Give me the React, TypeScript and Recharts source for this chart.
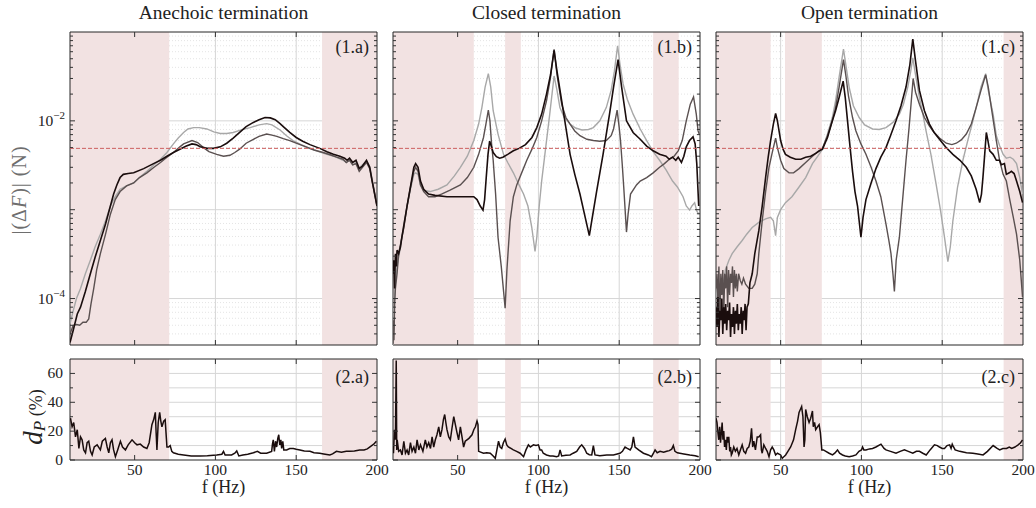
import React from 'react';
import {
  LineChart,
  Line,
  XAxis,
  YAxis,
  CartesianGrid,
  ReferenceArea,
  ReferenceLine,
} from 'recharts';

type Pt = [number, number];
type Band = [number, number];

const FONT = '"Liberation Serif", "DejaVu Serif", serif';

// frequency axis (Hz)
const freqDomain: [number, number] = [10, 200];
const freqTicks = [50, 100, 150, 200];
const freqGrid = [50, 100, 150];

// |<ΔF>| axis (N), log
const forceDomain: [number, number] = [3e-5, 0.1];
const forceMajor = [1e-4, 1e-3, 1e-2];
const forceMinor = [
  4e-5, 5e-5, 6e-5, 7e-5, 8e-5, 9e-5,
  2e-4, 3e-4, 4e-4, 5e-4, 6e-4, 7e-4, 8e-4, 9e-4,
  2e-3, 3e-3, 4e-3, 5e-3, 6e-3, 7e-3, 8e-3, 9e-3,
  2e-2, 3e-2, 4e-2, 5e-2, 6e-2, 7e-2, 8e-2, 9e-2,
];
const forceLabels: [number, string][] = [[1e-2, '−2'], [1e-4, '−4']];
const threshold = 4.9e-3;

// d_P axis (%)
const dpDomain: [number, number] = [0, 70];
const dpTicks = [0, 10, 20, 30, 40, 50, 60];
const dpLabels = [0, 20, 40, 60];

const titles = ['Anechoic termination', 'Closed termination', 'Open termination'];
const topTags = ['(1.a)', '(1.b)', '(1.c)'];
const bottomTags = ['(2.a)', '(2.b)', '(2.c)'];

// shaded frequency bands
const anechoicBands: Band[] = [[10, 71.4], [166, 200]];
const closedBandsTop: Band[] = [[10, 60], [79.4, 89.1], [171, 186.8]];
const closedBandsBottom: Band[] = [[10, 62.5], [79.4, 89.1], [171, 186.8]];
const openBands: Band[] = [[10, 43.8], [52.7, 75.5], [188, 200]];

// ---- anechoic termination ----
const anechoicLight: Pt[] = [
  [10, 5.2e-5], [12, 7.3e-5], [14, 1.0e-4], [16.5, 1.3e-4], [19.5, 1.9e-4], [22.6, 2.7e-4], [25.5, 3.8e-4],
  [28.8, 5.3e-4], [32, 7.5e-4], [35, 1.1e-3], [38, 1.4e-3], [41, 1.7e-3], [45, 1.85e-3], [49.4, 2.0e-3],
  [53, 2.3e-3], [57.6, 2.7e-3], [62, 3.2e-3], [66, 3.7e-3], [70, 4.4e-3], [74, 5.5e-3], [77, 6.4e-3],
  [80.3, 7.4e-3], [83, 8.1e-3], [86.5, 8.4e-3], [90, 8.4e-3], [94.7, 8.1e-3], [99, 7.5e-3], [103, 7.2e-3],
  [107, 7.2e-3], [111, 7.4e-3], [116, 7.9e-3], [121.5, 8.4e-3], [127, 9.0e-3], [131.7, 9.3e-3], [135, 9.0e-3],
  [140, 7.9e-3], [144, 6.8e-3], [148, 6.0e-3], [153, 5.4e-3], [158.5, 4.9e-3], [164, 4.5e-3], [169, 4.2e-3],
  [174, 3.95e-3], [179, 3.6e-3], [181, 3.4e-3], [183, 3.6e-3], [185, 3.2e-3], [187, 3.4e-3], [189, 2.95e-3],
  [191, 3.2e-3], [193.5, 3.5e-3], [195.5, 3.05e-3], [197, 2.2e-3], [200, 1.1e-3],
];
const anechoicDark: Pt[] = [
  [10, 4.0e-5], [12, 5.0e-5], [14, 5.1e-5], [16, 5.0e-5], [18, 5.4e-5], [20, 5.4e-5], [21.6, 5.9e-5],
  [23, 8.7e-5], [24.7, 1.3e-4], [26.5, 2.1e-4], [28.8, 3.2e-4], [32, 5.3e-4], [35, 8.9e-4], [38, 1.3e-3],
  [41, 1.6e-3], [45, 1.85e-3], [49.4, 2.0e-3], [53, 2.3e-3], [57.6, 2.6e-3], [62, 3.0e-3], [66, 3.4e-3],
  [70, 3.9e-3], [74, 4.4e-3], [78, 5.1e-3], [80.3, 5.5e-3], [85.5, 6.0e-3], [89, 5.7e-3], [92.6, 5.0e-3],
  [96, 4.5e-3], [100.8, 4.2e-3], [105, 4.0e-3], [109, 4.1e-3], [112, 4.4e-3], [115, 4.8e-3], [119, 5.6e-3],
  [123.5, 6.2e-3], [127, 6.7e-3], [131.7, 7.1e-3], [135, 6.9e-3], [138, 6.7e-3], [142, 6.3e-3], [146, 6.0e-3],
  [150, 5.6e-3], [156, 5.1e-3], [161, 4.7e-3], [166.7, 4.4e-3], [171, 4.15e-3], [175, 3.9e-3], [179, 3.7e-3],
  [181, 3.4e-3], [183, 3.6e-3], [185, 3.2e-3], [187, 3.3e-3], [189, 2.7e-3], [191, 3.0e-3], [193.5, 3.4e-3],
  [195.5, 2.9e-3], [197, 2.1e-3], [200, 1.1e-3],
];
const anechoicBlack: Pt[] = [
  [10, 3.2e-5], [12, 4.4e-5], [14.5, 6.7e-5], [16.5, 8.0e-5], [19.5, 1.2e-4], [22.6, 1.9e-4], [25.5, 2.9e-4],
  [28.8, 4.5e-4], [32, 6.9e-4], [35, 1.1e-3], [37, 1.5e-3], [39, 1.9e-3], [41, 2.3e-3], [43, 2.5e-3],
  [46, 2.55e-3], [49.4, 2.6e-3], [55.6, 2.9e-3], [61.7, 3.3e-3], [66, 3.6e-3], [70, 4.0e-3], [74, 4.4e-3],
  [78, 4.8e-3], [82, 5.2e-3], [85.5, 5.5e-3], [88, 5.4e-3], [90.6, 5.1e-3], [95, 4.9e-3], [98.8, 4.9e-3],
  [103, 5.1e-3], [107, 5.6e-3], [111, 6.4e-3], [115, 7.4e-3], [119, 8.6e-3], [123.5, 9.6e-3], [127, 1.03e-2],
  [130.7, 1.09e-2], [134, 1.08e-2], [137, 1.03e-2], [140, 9.3e-3], [142, 8.6e-3], [146, 7.4e-3], [150, 6.5e-3],
  [154, 5.9e-3], [158.5, 5.4e-3], [164.6, 4.9e-3], [169, 4.5e-3], [173, 4.2e-3], [177, 4.0e-3], [180, 3.8e-3],
  [181.5, 3.6e-3], [183, 3.8e-3], [185, 3.4e-3], [187, 3.6e-3], [189, 2.9e-3], [191, 3.1e-3], [193.5, 3.6e-3],
  [195.5, 3.0e-3], [197, 2.1e-3], [200, 1.1e-3],
];

// ---- closed termination ----
const closedLight: Pt[] = [
  [10, 2.8e-5], [10.3, 8.0e-5], [10.6, 4.4e-5], [11, 1.1e-4], [11.5, 1.5e-4], [12.5, 2.3e-4], [14.6, 3.8e-4],
  [16.7, 6.9e-4], [18.7, 1.1e-3], [20.8, 1.7e-3], [22.9, 2.5e-3], [24, 2.6e-3], [25.5, 2.5e-3], [27, 1.9e-3],
  [29, 1.65e-3], [33, 1.6e-3], [38, 1.7e-3], [43.4, 1.9e-3], [48, 2.4e-3], [51.7, 3.0e-3], [56, 4.0e-3],
  [60, 6.0e-3], [63, 9.2e-3], [65, 1.41e-2], [67, 2.4e-2], [69, 3.4e-2], [70.5, 2.4e-2], [72, 1.3e-2],
  [75, 7.1e-3], [78.4, 4.2e-3], [81, 3.4e-3], [84.5, 2.6e-3], [88, 1.9e-3], [90.8, 1.5e-3], [93.5, 1.1e-3],
  [95.9, 6.3e-4], [97.9, 3.4e-4], [99, 4.9e-4], [100.5, 1.1e-3], [102, 2.1e-3], [104, 4.2e-3], [107, 1.19e-2],
  [109.7, 3.2e-2], [111.5, 2.2e-2], [113.3, 1.41e-2], [116, 1.09e-2], [119.6, 9.2e-3], [123, 8.3e-3],
  [127, 7.9e-3], [131, 8.0e-3], [134, 8.4e-3], [138, 1.0e-2], [142, 1.41e-2], [145, 2.2e-2], [147, 3.6e-2],
  [149, 7.0e-2], [150.5, 4.3e-2], [152.4, 2.6e-2], [155, 1.75e-2], [158.6, 1.19e-2], [163, 8.1e-3],
  [167, 6.0e-3], [171, 4.5e-3], [175, 3.6e-3], [179, 2.8e-3], [183, 2.1e-3], [186, 1.8e-3], [189.5, 1.4e-3],
  [191.5, 1.1e-3], [193.6, 9.9e-4], [195, 1.1e-3], [196.7, 1.2e-3], [198, 9.7e-4], [199.2, 8.9e-4],
];
const closedDark: Pt[] = [
  [10, 3.1e-5], [10.3, 5.7e-5], [10.6, 3.4e-5], [11, 8.7e-5], [11.5, 1.3e-4], [12.5, 1.9e-4], [13.5, 3.2e-4],
  [16.7, 6.3e-4], [18.7, 1.1e-3], [20.8, 1.8e-3], [22.9, 2.7e-3], [24, 3.0e-3], [25.5, 2.7e-3], [27, 1.9e-3],
  [29, 1.6e-3], [32, 1.4e-3], [36, 1.4e-3], [40, 1.5e-3], [45, 1.65e-3], [51.7, 1.9e-3], [56, 2.3e-3],
  [60, 3.0e-3], [63, 4.2e-3], [66, 6.5e-3], [67.5, 9.2e-3], [69, 1.32e-2], [70, 1.0e-2], [71, 5.5e-3],
  [72, 3.6e-3], [73.5, 1.5e-3], [75, 4.9e-4], [77, 2.3e-4], [79.4, 7.8e-5], [80.5, 2.1e-4], [82.5, 7.5e-4],
  [84.5, 1.4e-3], [86.6, 1.9e-3], [90, 2.7e-3], [92.8, 3.6e-3], [96, 4.8e-3], [99, 6.5e-3], [102, 1.0e-2],
  [105, 1.68e-2], [107.5, 3.1e-2], [109.7, 6.4e-2], [111.5, 3.3e-2], [114.4, 1.54e-2], [117, 1.09e-2],
  [119.6, 9.2e-3], [122.5, 7.7e-3], [125.7, 6.8e-3], [130, 6.2e-3], [134, 6.0e-3], [138, 5.9e-3],
  [142, 6.0e-3], [145, 6.8e-3], [146.5, 8.1e-3], [148.7, 1.32e-2], [150, 8.4e-3], [150.8, 6.0e-3],
  [152, 3.0e-3], [152.8, 1.8e-3], [154.5, 5.6e-4], [155.5, 8.9e-4], [157, 1.5e-3], [160.7, 1.9e-3],
  [163, 2.1e-3], [167, 2.3e-3], [171, 2.6e-3], [175, 3.0e-3], [178, 3.3e-3], [181, 3.7e-3], [184, 4.0e-3],
  [186.5, 4.6e-3], [189, 6.0e-3], [191.5, 1.0e-2], [194, 1.54e-2], [196, 1.86e-2], [197.7, 1.19e-2],
  [198.8, 7.7e-3], [199.5, 7.1e-3],
];
const closedBlack: Pt[] = [
  [10, 1.9e-4], [10.5, 2.7e-4], [11, 1.3e-4], [11.5, 3.2e-4], [12, 2.3e-4], [12.5, 3.5e-4], [13.5, 3.2e-4],
  [14.6, 3.8e-4], [15.5, 4.9e-4], [16.5, 6.3e-4], [18.7, 1.1e-3], [20.8, 1.8e-3], [22.9, 3.0e-3], [24, 3.3e-3],
  [25.5, 3.0e-3], [27, 2.1e-3], [29, 1.7e-3], [32, 1.5e-3], [36, 1.45e-3], [43.4, 1.4e-3], [50, 1.4e-3],
  [56, 1.4e-3], [60, 1.4e-3], [62, 1.3e-3], [64, 1.1e-3], [65.7, 9.9e-4], [66.7, 1.3e-3], [67.7, 2.3e-3],
  [68.8, 4.2e-3], [69.8, 5.9e-3], [70.8, 5.2e-3], [72, 4.4e-3], [74, 3.95e-3], [76, 3.8e-3], [78, 3.9e-3],
  [81, 4.2e-3], [84.5, 4.6e-3], [88, 4.9e-3], [92, 5.4e-3], [96, 6.5e-3], [99, 8.4e-3], [102, 1.19e-2],
  [105, 2.0e-2], [107.5, 3.3e-2], [109.7, 6.2e-2], [111.5, 3.6e-2], [114.4, 1.68e-2], [117, 8.4e-3],
  [119.6, 4.2e-3], [122.5, 2.5e-3], [125.7, 1.5e-3], [128.5, 8.9e-4], [131.5, 5.1e-4], [133, 7.5e-4],
  [136, 1.6e-3], [140, 4.2e-3], [144, 1.19e-2], [146.5, 2.4e-2], [149.3, 4.9e-2], [151.5, 2.4e-2],
  [154.5, 1.0e-2], [158.6, 7.4e-3], [163, 6.2e-3], [167, 5.2e-3], [171, 4.6e-3], [175, 4.2e-3], [179, 4.0e-3],
  [181, 3.7e-3], [183, 3.9e-3], [185, 3.6e-3], [186.5, 3.9e-3], [188.5, 3.4e-3], [190, 4.0e-3], [191.5, 5.1e-3],
  [193.5, 6.0e-3], [195.7, 6.6e-3], [197, 5.5e-3], [198, 3.3e-3], [199.2, 1.1e-3],
];

// ---- open termination ----
const openLight: Pt[] = [
  [10, 1.04e-4], [11, 1.3e-4], [12, 8.7e-5], [13, 1.7e-4], [14, 1.3e-4], [15.8, 2.1e-4], [18, 2.7e-4],
  [20, 3.2e-4], [23, 3.8e-4], [26.2, 4.5e-4], [29, 5.3e-4], [32.4, 6.3e-4], [36.5, 7.2e-4], [40.7, 7.9e-4],
  [43.8, 8.2e-4], [45.5, 7.5e-4], [46.9, 5.1e-4], [48, 8.2e-4], [50, 1.0e-3], [53, 1.2e-3], [57, 1.4e-3],
  [61.4, 1.8e-3], [65.5, 2.3e-3], [69.7, 3.3e-3], [73, 4.0e-3], [75.9, 4.8e-3], [79, 7.1e-3], [82, 1.09e-2],
  [84, 1.68e-2], [86.2, 3.1e-2], [88.9, 6.4e-2], [90.5, 4.1e-2], [92.4, 2.4e-2], [95, 1.48e-2], [98.6, 1.09e-2],
  [102, 9.0e-3], [106.9, 8.1e-3], [111, 8.0e-3], [115.2, 8.4e-3], [119.5, 9.6e-3], [123.5, 1.19e-2],
  [126, 1.54e-2], [128.7, 2.4e-2], [130.5, 3.6e-2], [131.8, 5.1e-2], [133.5, 3.3e-2], [135.9, 1.83e-2],
  [138, 1.19e-2], [140, 7.7e-3], [143, 4.2e-3], [146.3, 1.9e-3], [149, 9.7e-4], [151.4, 4.9e-4],
  [153.5, 2.6e-4], [155, 3.8e-4], [156.6, 7.5e-4], [159.5, 1.8e-3], [162.8, 3.6e-3], [166, 6.2e-3],
  [169, 1.0e-2], [172, 1.68e-2], [174, 2.4e-2], [176.9, 3.4e-2], [178.5, 2.2e-2], [181.5, 1.19e-2],
  [183.5, 6.8e-3], [185.6, 5.2e-3], [187.7, 4.2e-3], [189.7, 3.8e-3], [192, 3.9e-3], [194, 3.7e-3],
  [196, 3.3e-3], [198, 2.3e-3], [199.7, 1.5e-3],
];
const openDark: Pt[] = [
  [10, 1.3e-4], [10.6, 1.9e-4], [11.2, 8.7e-5], [11.8, 2.3e-4], [12.4, 5.7e-5], [13, 1.9e-4], [13.6, 1.1e-4],
  [14.2, 2.1e-4], [14.8, 6.7e-5], [15.4, 1.9e-4], [16, 1.3e-4], [16.6, 2.3e-4], [17.2, 8.0e-5], [17.8, 2.1e-4],
  [18.4, 1.1e-4], [19, 1.9e-4], [19.6, 1.5e-4], [20.2, 2.3e-4], [20.8, 1.04e-4], [21.4, 2.1e-4], [22, 1.3e-4],
  [22.6, 1.9e-4], [23.2, 1.2e-4], [24, 1.9e-4], [25, 1.6e-4], [26, 1.45e-4], [27, 1.7e-4], [28.3, 1.45e-4],
  [30.3, 1.3e-4], [32.4, 1.3e-4], [34, 1.45e-4], [35.5, 1.9e-4], [36.5, 3.2e-4], [38.6, 7.5e-4],
  [40.7, 1.6e-3], [42.8, 3.0e-3], [44.8, 4.4e-3], [46.9, 6.4e-3], [48, 5.0e-3], [50, 3.6e-3], [52, 2.9e-3],
  [55.2, 2.6e-3], [58, 2.6e-3], [61.4, 2.9e-3], [65.5, 3.4e-3], [69.7, 4.0e-3], [73, 4.5e-3], [75.9, 4.9e-3],
  [79, 6.8e-3], [82, 1.0e-2], [84, 1.41e-2], [86.2, 2.4e-2], [88.9, 4.9e-2], [90.5, 3.1e-2], [92, 1.9e-2],
  [94.5, 1.09e-2], [96.6, 7.7e-3], [99.7, 5.5e-3], [102.8, 4.2e-3], [106, 3.0e-3], [109, 2.1e-3],
  [112, 1.4e-3], [115.2, 6.9e-4], [117, 4.5e-4], [118.3, 3.2e-4], [119.5, 1.9e-4], [120.4, 1.2e-4],
  [121.5, 2.7e-4], [123.5, 4.9e-4], [125.5, 1.3e-3], [127.6, 3.6e-3], [129.5, 8.4e-3], [130.7, 1.54e-2],
  [132, 3.0e-2], [133.5, 2.1e-2], [135.9, 1.54e-2], [139, 1.09e-2], [142, 8.8e-3], [144.2, 7.7e-3],
  [148.3, 6.4e-3], [152.5, 5.6e-3], [156, 5.4e-3], [158.7, 5.6e-3], [161.8, 6.1e-3], [164.9, 7.1e-3],
  [168, 9.2e-3], [171, 1.41e-2], [174, 2.2e-2], [176.9, 3.3e-2], [178.5, 2.4e-2], [180.4, 1.41e-2],
  [183.5, 6.0e-3], [185.5, 3.6e-3], [187.7, 2.5e-3], [189.7, 2.1e-3], [191.8, 1.3e-3], [194, 8.2e-4],
  [196, 5.3e-4], [198, 2.7e-4], [199.7, 1.04e-4],
];
const openBlack: Pt[] = [
  [10, 8.0e-5], [10.6, 4.8e-5], [11.2, 1.04e-4], [11.8, 3.7e-5], [12.4, 7.3e-5], [13, 5.7e-5], [13.6, 1.0e-4],
  [14.2, 4.0e-5], [14.8, 8.0e-5], [15.4, 5.2e-5], [16, 8.7e-5], [16.6, 4.4e-5], [17.2, 7.3e-5], [17.8, 5.7e-5],
  [18.4, 9.0e-5], [19, 3.7e-5], [19.6, 6.7e-5], [20.2, 4.8e-5], [20.8, 8.0e-5], [21.4, 4.0e-5], [22, 7.3e-5],
  [22.6, 5.2e-5], [23.2, 8.7e-5], [23.8, 4.4e-5], [24.4, 6.7e-5], [25, 5.2e-5], [25.6, 8.0e-5], [26.2, 4.0e-5],
  [26.8, 7.3e-5], [27.4, 5.7e-5], [28, 8.7e-5], [28.6, 4.4e-5], [29.2, 8.0e-5], [30, 8.7e-5], [31, 1.5e-4],
  [32.4, 1.9e-4], [34, 3.2e-4], [36.5, 5.8e-4], [38.6, 1.1e-3], [40.7, 2.3e-3], [42.3, 3.9e-3], [43.8, 6.0e-3],
  [45.5, 9.2e-3], [46.9, 1.21e-2], [48, 1.0e-2], [50, 6.0e-3], [51.5, 4.8e-3], [53, 4.2e-3], [56, 3.9e-3],
  [59.3, 3.7e-3], [62.5, 3.7e-3], [65.5, 3.9e-3], [68.6, 4.0e-3], [71.7, 4.3e-3], [74, 4.6e-3], [75.9, 4.8e-3],
  [79, 6.5e-3], [82, 1.0e-2], [84, 1.3e-2], [86.2, 1.83e-2], [88.7, 2.8e-2], [90, 1.83e-2], [91.4, 1.0e-2],
  [93, 5.0e-3], [94.5, 2.7e-3], [96, 1.6e-3], [97.6, 1.1e-3], [99.7, 4.9e-4], [101, 8.2e-4], [102.8, 1.3e-3],
  [106, 2.0e-3], [109, 2.9e-3], [112, 3.9e-3], [115.2, 5.0e-3], [118, 6.8e-3], [121.4, 1.0e-2],
  [124.5, 1.48e-2], [127.6, 2.4e-2], [130, 4.3e-2], [131.8, 8.3e-2], [133.5, 4.7e-2], [135.9, 2.2e-2],
  [139, 1.3e-2], [142.1, 9.2e-3], [145, 7.4e-3], [148.3, 6.2e-3], [152, 5.1e-3], [156.6, 4.2e-3],
  [161, 3.6e-3], [164.9, 3.0e-3], [168, 2.4e-3], [171, 1.7e-3], [173.2, 1.2e-3], [174.3, 1.5e-3],
  [175.2, 2.3e-3], [176.3, 4.2e-3], [177.3, 7.4e-3], [178.3, 6.0e-3], [179.4, 4.6e-3], [181.5, 4.2e-3],
  [183.5, 3.6e-3], [185.5, 3.6e-3], [186.6, 3.2e-3], [188.5, 3.3e-3], [189.7, 2.5e-3], [191.5, 2.6e-3],
  [192.8, 2.7e-3], [194.5, 2.55e-3], [196, 2.1e-3], [198, 1.6e-3], [199.7, 1.2e-3],
];

// ---- d_P (%) ----
const dpAnechoic: Pt[] = [
  [10.3, 29], [11.3, 23], [12.3, 26], [13.4, 16], [14.5, 21], [15.5, 8], [16.5, 16], [17.5, 14], [18.5, 7],
  [19.6, 5], [20.6, 12], [21.6, 13], [22.7, 6], [23.7, 3.5], [25, 9], [26.8, 10.5], [28.8, 7], [30, 13],
  [31.9, 15], [33, 9], [34, 5], [35, 12], [36, 14], [37, 7], [38.1, 2.3], [39.5, 7], [41.2, 13], [42.5, 9],
  [44.3, 7], [46, 10.5], [48.4, 14], [50, 12], [51.5, 10.5], [53.5, 11], [55.6, 9], [57.6, 8], [59, 12],
  [60.7, 24.5], [61.8, 28], [62.8, 33], [63.3, 19], [63.8, 7], [64.6, 26], [65.5, 33], [66.2, 27], [66.9, 23],
  [68, 27], [68.9, 28], [70, 9], [71, 9], [72, 10], [73, 6], [74, 5], [77, 4], [80.3, 3.5], [85, 2.8],
  [90.6, 2.8], [95, 3], [100.8, 3.5], [104, 4], [105, 6], [106, 3.5], [110, 3.5], [112, 4.7], [113.2, 6.3],
  [114.5, 2.8], [117, 3.5], [120, 4], [123.5, 5], [126, 6], [128, 4.7], [131.7, 4.7], [134.8, 6], [135.3, 11],
  [135.8, 14], [136.5, 6], [137.2, 13], [137.9, 9], [138.6, 15], [139.2, 17.5], [139.8, 10.5], [140.5, 14],
  [141, 8], [141.7, 13], [142.3, 7], [144.1, 7], [146, 8], [148.2, 8], [150, 7.5], [152.3, 7], [155, 6.3],
  [158.5, 6], [161, 5], [164.6, 4.7], [167, 4.2], [170.8, 3.5], [172.5, 4.2], [174.9, 6], [178, 5.4],
  [181, 6], [183.1, 6], [186, 6.3], [189.3, 7], [192, 7], [194, 7.7], [196.5, 9.8], [198, 11], [199.6, 13],
];
const dpClosed: Pt[] = [
  [10.3, 4.7], [10.9, 21], [11.5, 14], [12, 69], [12.3, 7], [12.6, 14], [13.5, 6], [14.6, 7], [15.6, 3.5],
  [16.7, 13], [17.7, 4.7], [18.7, 7], [19.7, 3.5], [20.8, 12], [21.8, 6], [22.9, 9], [23.9, 4.7], [24.9, 14],
  [26, 7], [27, 10.5], [28.5, 6], [30, 14], [31, 9], [32.1, 12], [33.2, 8], [34.2, 16], [35.2, 9], [36.2, 14],
  [37.2, 17.5], [38.3, 23], [39.3, 16], [40.3, 21], [41.2, 28], [42, 31.5], [42.7, 26], [43.4, 21], [44.5, 16],
  [45.5, 14], [46.5, 22], [47.6, 30], [48.6, 24.5], [49.6, 19], [50.6, 14], [51.7, 23], [52.7, 16], [53.7, 9],
  [54.7, 13], [55.8, 14], [57, 15], [58.9, 17.5], [60, 21], [61, 23], [62, 27], [62.6, 24.5], [63, 6],
  [66, 4.7], [68, 5], [70.2, 4.7], [72, 2.8], [73.3, 1.2], [74.3, 7], [75.3, 13], [76.3, 9], [77.3, 8],
  [78.3, 12], [79.4, 14.5], [80.4, 10.5], [81.4, 9], [83, 8], [84.5, 7], [86.5, 6], [88.7, 4.7], [90.8, 2.3],
  [92.3, 7], [93.8, 10.5], [95, 9], [96.9, 10.5], [98.5, 10], [100, 10.5], [101, 7], [102, 7], [103, 4.7],
  [105, 3.5], [107.2, 2.8], [109, 2.8], [111.3, 2.3], [112.5, 2.8], [113.4, 7], [114.4, 2.8], [117, 3.3],
  [119.6, 3.5], [121.5, 4.7], [123.7, 6], [125.5, 9], [126.8, 10.5], [128.5, 8], [129.9, 4.7], [131.5, 3.7],
  [133, 3.5], [134, 10], [135, 3.5], [138, 3], [142.3, 3.5], [146.4, 3.5], [150.5, 4.7], [152, 6], [153.6, 9],
  [155, 8], [156.8, 7], [157.8, 9], [158.8, 16], [159.8, 9], [162, 7], [165, 4.7], [168, 3.5], [170, 2.3],
  [171.2, 4.7], [172.2, 7], [173.5, 5], [175.3, 6], [177.5, 5.4], [179.4, 6], [181, 6.5], [182.5, 7.5],
  [183.5, 10], [184.5, 6], [186, 5], [187.5, 4.7], [190, 4.2], [193.7, 3.5], [197, 3], [199.2, 2.3],
];
const dpOpen: Pt[] = [
  [10, 29], [10.6, 26], [11.2, 19], [11.7, 14], [12.3, 23], [12.8, 12], [13.3, 19], [13.8, 26], [14.3, 14],
  [14.8, 20], [15.3, 9], [15.8, 14], [16.4, 7], [16.9, 16], [17.4, 12], [17.9, 16], [18.5, 6], [19, 9],
  [19.5, 3.5], [20, 4.7], [21, 9], [22, 6], [23, 8], [24.1, 3.5], [25.1, 7], [26.2, 10.5], [27.2, 6],
  [28.3, 4.7], [29.3, 8], [30.3, 9], [31.2, 13], [32, 22], [32.7, 9], [33.4, 13], [34.4, 7], [35.5, 16],
  [36.5, 16], [37.6, 17.5], [38.1, 7], [38.6, 4.7], [39.6, 10.5], [40.7, 8], [41.7, 6], [42.8, 2.3],
  [43.8, 7], [44.8, 9], [45.8, 7], [46.9, 3.5], [48, 4.7], [50, 3.5], [51, 1.2], [52, 2.3], [53.1, 3.5],
  [54.5, 6], [56.2, 9], [58, 14], [59.3, 21], [60.5, 27], [61.4, 33], [62.2, 35], [63, 37], [63.8, 30],
  [64.5, 9], [65, 14], [65.5, 35], [66.5, 30], [67.6, 26], [68.6, 29], [69.7, 34], [70.2, 23], [71, 26],
  [71.7, 21], [72.8, 23], [73.8, 24.5], [74.6, 19], [75.5, 7], [76.5, 7], [78, 6], [80, 4.7], [82.1, 3.5],
  [83.5, 4.7], [85.2, 7], [86.5, 4.7], [88.3, 3.5], [90, 2.8], [92.4, 2.3], [94.5, 2.8], [96.6, 3.5],
  [98.5, 6], [100, 7], [100.7, 9], [101.5, 7], [102.8, 7], [105, 7.7], [106.9, 8], [109, 9], [112.1, 11],
  [114, 8], [115.2, 7], [118, 6], [121.4, 4.7], [124, 6], [126.6, 7], [129, 6], [131.8, 4.7], [134, 6],
  [135.9, 6], [138, 4.7], [140.1, 3.5], [142.5, 7], [145.2, 10.5], [147, 10], [148.3, 9], [150, 8],
  [151.4, 8], [153, 10], [154.6, 10.5], [155.5, 8], [156.2, 11], [156.6, 10], [158, 7], [160.8, 6],
  [165, 5], [169, 4.7], [172, 4.2], [175.3, 3.5], [178, 6], [181.5, 10], [184, 8], [185.6, 7], [187.5, 8],
  [189.8, 8], [191.5, 9], [193, 8], [195, 9], [197, 10.5], [198.5, 12], [199.7, 14],
];

// ---- layout ----
const W = 307;
const COL_X = [70, 393, 716];
const TOP_Y = 32;
const TOP_H = 313;
const BOT_Y = 359;
const BOT_H = 101;
const ML = 70;
const MR = 24;
const MT = 12;
const MB = 40;

const SHADE = '#f2e2e2';
const BLACK = '#1a0d0d';
const DARK = '#5a5050';
const LIGHT = '#a8a8a8';

interface SeriesDef {
  pts: Pt[];
  color: string;
  width: number;
}

interface PanelProps {
  left: number;
  top: number;
  height: number;
  log: boolean;
  series: SeriesDef[];
  bands: Band[];
  yLabels: boolean;
  xLabels: boolean;
}

function Panel({ left, top, height, log, series, bands, yLabels, xLabels }: PanelProps) {
  const domain = log ? forceDomain : dpDomain;
  const yTicks = log ? [...forceMinor, ...forceMajor].sort((a, b) => a - b) : dpTicks;
  const plotL = ML;
  const plotR = ML + W;
  const plotT = MT;
  const plotB = MT + height;

  const xTick = (p: any) => {
    const x = p.x;
    const v = p.payload.value;
    return (
      <g>
        {v < 200 && <line x1={x} x2={x} y1={plotB} y2={plotB - 5} stroke="#333" />}
        {v < 200 && <line x1={x} x2={x} y1={plotT} y2={plotT + 5} stroke="#333" />}
        {xLabels && (
          <text x={x} y={plotB + 15} textAnchor="middle" fontSize={15.5} fontFamily={FONT} fill="#222">
            {v}
          </text>
        )}
      </g>
    );
  };

  const yTick = (p: any) => {
    const y = p.y;
    const v = p.payload.value;
    let major = true;
    let label: React.ReactNode = null;
    if (log) {
      const e = Math.log10(v);
      major = Math.abs(e - Math.round(e)) < 1e-6;
      const hit = forceLabels.find(([val]) => Math.abs(val - v) < val * 1e-6);
      if (yLabels && hit) {
        label = (
          <text x={plotL - 5} y={y + 5} textAnchor="end" fontSize={15.5} fontFamily={FONT} fill="#222">
            10<tspan dy={-7} fontSize={11}>{hit[1]}</tspan>
          </text>
        );
      }
    } else {
      major = v % 20 === 0;
      if (yLabels && dpLabels.includes(v)) {
        label = (
          <text x={plotL - 7} y={y + 5} textAnchor="end" fontSize={15.5} fontFamily={FONT} fill="#222">
            {v}
          </text>
        );
      }
    }
    const len = major ? 5 : 3;
    return (
      <g>
        <line x1={plotL} x2={plotL + len} y1={y} y2={y} stroke="#333" />
        <line x1={plotR} x2={plotR - len} y1={y} y2={y} stroke="#333" />
        {label}
      </g>
    );
  };

  return (
    <div style={{ position: 'absolute', left: left - ML, top: top - MT }}>
      <LineChart width={W + ML + MR} height={height + MT + MB} margin={{ top: MT, right: MR, bottom: 0, left: 0 }}>
        <XAxis
          type="number"
          dataKey="f"
          domain={freqDomain}
          ticks={freqTicks}
          interval={0}
          allowDataOverflow
          height={MB}
          axisLine={false}
          tickLine={false}
          tick={xTick}
        />
        <YAxis
          type="number"
          scale={log ? 'log' : 'linear'}
          domain={domain}
          ticks={yTicks}
          interval={0}
          allowDataOverflow
          width={ML}
          axisLine={false}
          tickLine={false}
          tick={yTick}
        />
        {bands.map(([a, b], i) => (
          <ReferenceArea key={`band-${i}`} x1={a} x2={b} fill={SHADE} fillOpacity={1} stroke="none" />
        ))}
        {log && (
          <CartesianGrid horizontalValues={forceMinor} vertical={false} stroke="#e4e4e4" strokeDasharray="1 2" />
        )}
        <CartesianGrid horizontalValues={log ? forceMajor : dpTicks.slice(1)} verticalValues={freqGrid} stroke="#d6d6d6" />
        {series.map((s, i) => (
          <Line
            key={`s-${i}`}
            data={s.pts.map(([f, v]) => ({ f, v }))}
            dataKey="v"
            type="linear"
            dot={false}
            activeDot={false}
            stroke={s.color}
            strokeWidth={s.width}
            isAnimationActive={false}
          />
        ))}
        {log && <ReferenceLine y={threshold} stroke="#cc6060" strokeDasharray="4 2" strokeWidth={1} />}
        <ReferenceArea x1={10} x2={200} y1={domain[0]} y2={domain[1]} fill="none" stroke="#262626" strokeWidth={1} />
      </LineChart>
    </div>
  );
}

const topSeries: SeriesDef[][] = [
  [
    { pts: anechoicLight, color: LIGHT, width: 1.4 },
    { pts: anechoicDark, color: DARK, width: 1.4 },
    { pts: anechoicBlack, color: BLACK, width: 1.6 },
  ],
  [
    { pts: closedLight, color: LIGHT, width: 1.4 },
    { pts: closedDark, color: DARK, width: 1.4 },
    { pts: closedBlack, color: BLACK, width: 1.6 },
  ],
  [
    { pts: openLight, color: LIGHT, width: 1.4 },
    { pts: openDark, color: DARK, width: 1.4 },
    { pts: openBlack, color: BLACK, width: 1.6 },
  ],
];
const bottomSeries: Pt[][] = [dpAnechoic, dpClosed, dpOpen];
const topBands: Band[][] = [anechoicBands, closedBandsTop, openBands];
const bottomBands: Band[][] = [anechoicBands, closedBandsBottom, openBands];

export default function App() {
  return (
    <div
      style={{
        position: 'absolute',
        left: 0,
        top: 0,
        width: 1036,
        height: 508,
        background: '#fff',
        fontFamily: FONT,
        overflow: 'hidden',
      }}
    >
      {COL_X.map((x, i) => (
        <Panel
          key={`top-${i}`}
          left={x}
          top={TOP_Y}
          height={TOP_H}
          log
          series={topSeries[i]}
          bands={topBands[i]}
          yLabels={i === 0}
          xLabels={false}
        />
      ))}
      {COL_X.map((x, i) => (
        <Panel
          key={`bot-${i}`}
          left={x}
          top={BOT_Y}
          height={BOT_H}
          log={false}
          series={[{ pts: bottomSeries[i], color: BLACK, width: 1.5 }]}
          bands={bottomBands[i]}
          yLabels={i === 0}
          xLabels
        />
      ))}
      <svg width={1036} height={508} style={{ position: 'absolute', left: 0, top: 0, pointerEvents: 'none' }}>
        {COL_X.map((x, i) => (
          <g key={`txt-${i}`} fontFamily={FONT} fill="#222">
            <text x={x + W / 2} y={19} textAnchor="middle" fontSize={19.5}>
              {titles[i]}
            </text>
            <text x={x + W - 8} y={53} textAnchor="end" fontSize={18}>
              {topTags[i]}
            </text>
            <text x={x + W - 8} y={383} textAnchor="end" fontSize={18}>
              {bottomTags[i]}
            </text>
            <text x={x + W / 2} y={493} textAnchor="middle" fontSize={18}>
              f (Hz)
            </text>
          </g>
        ))}
        <text
          x={26}
          y={190}
          transform="rotate(-90 26 190)"
          textAnchor="middle"
          fontSize={20}
          letterSpacing={1}
          fontFamily={FONT}
          fill="#6e6e6e"
        >
          |(Δ<tspan fontStyle="italic">F</tspan>)| (N)
        </text>
        <text x={42} y={417} transform="rotate(-90 42 417)" textAnchor="middle" fontFamily={FONT} fill="#222">
          <tspan fontSize={27} fontStyle="italic">d</tspan>
          <tspan fontSize={17} fontStyle="italic" dy={3}>P</tspan>
          <tspan fontSize={18} dy={-3}> (%)</tspan>
        </text>
      </svg>
    </div>
  );
}
